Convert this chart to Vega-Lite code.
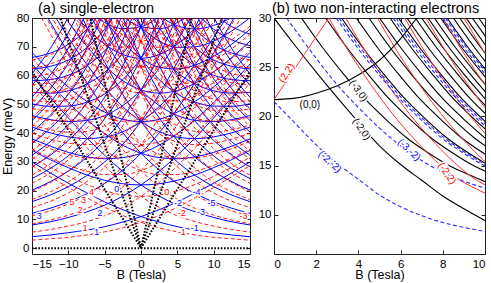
{
"$schema":"https://vega.github.io/schema/vega-lite/v6.json",
"background":"white",
"padding":{"left":0,"top":0,"right":0,"bottom":0},
"bounds":"flush",
"spacing":24,
"config":{
 "view":{"stroke":"#222","strokeWidth":1},
 "font":"Liberation Sans",
 "axis":{"grid":false,"domain":false,"tickColor":"#222","tickSize":-4,"labelFont":"Liberation Sans","labelFontSize":11.5,"labelColor":"#000","titleFont":"Liberation Sans","titleFontSize":12.5,"titleFontWeight":"normal","titleColor":"#000"},
 "axisX":{"labelPadding":8,"titlePadding":-1},
 "axisY":{"labelPadding":7,"titlePadding":2},
 "title":{"fontSize":14.5,"fontWeight":"normal","anchor":"start","frame":"group","font":"Liberation Sans","color":"#000"}
},
"datasets":{
"blue":[
{"k":"a1","B":-15,"E":4},{"k":"a1","B":-12.5,"E":4.6},{"k":"a1","B":-10,"E":5.4},{"k":"a1","B":-7.5,"E":6.3},{"k":"a1","B":-5,"E":7.5},{"k":"a1","B":-2.5,"E":9.1},{"k":"a1","B":0,"E":11},{"k":"a1","B":2.5,"E":13.4},{"k":"a1","B":5,"E":16.1},{"k":"a1","B":7.5,"E":19.3},{"k":"a1","B":10,"E":22.6},{"k":"a1","B":12.5,"E":26.2},{"k":"a1","B":15,"E":30},
{"k":"a-1","B":15,"E":4},{"k":"a-1","B":12.5,"E":4.6},{"k":"a-1","B":10,"E":5.4},{"k":"a-1","B":7.5,"E":6.3},{"k":"a-1","B":5,"E":7.5},{"k":"a-1","B":2.5,"E":9.1},{"k":"a-1","B":0,"E":11},{"k":"a-1","B":-2.5,"E":13.4},{"k":"a-1","B":-5,"E":16.1},{"k":"a-1","B":-7.5,"E":19.3},{"k":"a-1","B":-10,"E":22.6},{"k":"a-1","B":-12.5,"E":26.2},{"k":"a-1","B":-15,"E":30},
{"k":"a2","B":-15,"E":8.1},{"k":"a2","B":-12.5,"E":9.2},{"k":"a2","B":-10,"E":10.7},{"k":"a2","B":-7.5,"E":12.6},{"k":"a2","B":-5,"E":15},{"k":"a2","B":-2.5,"E":18.1},{"k":"a2","B":0,"E":22},{"k":"a2","B":2.5,"E":26.7},{"k":"a2","B":5,"E":32.3},{"k":"a2","B":7.5,"E":38.5},{"k":"a2","B":10,"E":45.3},{"k":"a2","B":12.5,"E":52.4},{"k":"a2","B":15,"E":59.9},
{"k":"a-2","B":15,"E":8.1},{"k":"a-2","B":12.5,"E":9.2},{"k":"a-2","B":10,"E":10.7},{"k":"a-2","B":7.5,"E":12.6},{"k":"a-2","B":5,"E":15},{"k":"a-2","B":2.5,"E":18.1},{"k":"a-2","B":0,"E":22},{"k":"a-2","B":-2.5,"E":26.7},{"k":"a-2","B":-5,"E":32.3},{"k":"a-2","B":-7.5,"E":38.5},{"k":"a-2","B":-10,"E":45.3},{"k":"a-2","B":-12.5,"E":52.4},{"k":"a-2","B":-15,"E":59.9},
{"k":"a3","B":-15,"E":12.1},{"k":"a3","B":-12.5,"E":13.9},{"k":"a3","B":-10,"E":16.1},{"k":"a3","B":-7.5,"E":18.9},{"k":"a3","B":-5,"E":22.5},{"k":"a3","B":-2.5,"E":27.2},{"k":"a3","B":0,"E":33},{"k":"a3","B":2.5,"E":40.1},{"k":"a3","B":5,"E":48.4},{"k":"a3","B":7.5,"E":57.8},{"k":"a3","B":10,"E":67.9},{"k":"a3","B":12.5,"E":78.7},{"k":"a3","B":15,"E":89.9},
{"k":"a-3","B":15,"E":12.1},{"k":"a-3","B":12.5,"E":13.9},{"k":"a-3","B":10,"E":16.1},{"k":"a-3","B":7.5,"E":18.9},{"k":"a-3","B":5,"E":22.5},{"k":"a-3","B":2.5,"E":27.2},{"k":"a-3","B":0,"E":33},{"k":"a-3","B":-2.5,"E":40.1},{"k":"a-3","B":-5,"E":48.4},{"k":"a-3","B":-7.5,"E":57.8},{"k":"a-3","B":-10,"E":67.9},{"k":"a-3","B":-12.5,"E":78.7},{"k":"a-3","B":-15,"E":89.9},
{"k":"a4","B":-15,"E":16.2},{"k":"a4","B":-12.5,"E":18.5},{"k":"a4","B":-10,"E":21.4},{"k":"a4","B":-7.5,"E":25.2},{"k":"a4","B":-5,"E":30},{"k":"a4","B":-2.5,"E":36.2},{"k":"a4","B":0,"E":44},{"k":"a4","B":2.5,"E":53.5},{"k":"a4","B":5,"E":64.6},{"k":"a4","B":7.5,"E":77},{"k":"a4","B":10,"E":90.5},
{"k":"a-4","B":15,"E":16.2},{"k":"a-4","B":12.5,"E":18.5},{"k":"a-4","B":10,"E":21.4},{"k":"a-4","B":7.5,"E":25.2},{"k":"a-4","B":5,"E":30},{"k":"a-4","B":2.5,"E":36.2},{"k":"a-4","B":0,"E":44},{"k":"a-4","B":-2.5,"E":53.5},{"k":"a-4","B":-5,"E":64.6},{"k":"a-4","B":-7.5,"E":77},{"k":"a-4","B":-10,"E":90.5},
{"k":"a5","B":-15,"E":20.2},{"k":"a5","B":-12.5,"E":23.1},{"k":"a5","B":-10,"E":26.8},{"k":"a5","B":-7.5,"E":31.5},{"k":"a5","B":-5,"E":37.5},{"k":"a5","B":-2.5,"E":45.3},{"k":"a5","B":0,"E":55},{"k":"a5","B":2.5,"E":66.9},{"k":"a5","B":5,"E":80.7},
{"k":"a-5","B":15,"E":20.2},{"k":"a-5","B":12.5,"E":23.1},{"k":"a-5","B":10,"E":26.8},{"k":"a-5","B":7.5,"E":31.5},{"k":"a-5","B":5,"E":37.5},{"k":"a-5","B":2.5,"E":45.3},{"k":"a-5","B":0,"E":55},{"k":"a-5","B":-2.5,"E":66.9},{"k":"a-5","B":-5,"E":80.7},
{"k":"a6","B":-15,"E":24.2},{"k":"a6","B":-12.5,"E":27.7},{"k":"a6","B":-10,"E":32.1},{"k":"a6","B":-7.5,"E":37.7},{"k":"a6","B":-5,"E":45},{"k":"a6","B":-2.5,"E":54.3},{"k":"a6","B":0,"E":66},{"k":"a6","B":2.5,"E":80.2},
{"k":"a-6","B":15,"E":24.2},{"k":"a-6","B":12.5,"E":27.7},{"k":"a-6","B":10,"E":32.1},{"k":"a-6","B":7.5,"E":37.7},{"k":"a-6","B":5,"E":45},{"k":"a-6","B":2.5,"E":54.3},{"k":"a-6","B":0,"E":66},{"k":"a-6","B":-2.5,"E":80.2},
{"k":"a7","B":-15,"E":28.3},{"k":"a7","B":-12.5,"E":32.3},{"k":"a7","B":-10,"E":37.5},{"k":"a7","B":-7.5,"E":44},{"k":"a7","B":-5,"E":52.5},{"k":"a7","B":-2.5,"E":63.4},{"k":"a7","B":0,"E":77},{"k":"a7","B":2.5,"E":93.6},
{"k":"a-7","B":15,"E":28.3},{"k":"a-7","B":12.5,"E":32.3},{"k":"a-7","B":10,"E":37.5},{"k":"a-7","B":7.5,"E":44},{"k":"a-7","B":5,"E":52.5},{"k":"a-7","B":2.5,"E":63.4},{"k":"a-7","B":0,"E":77},{"k":"a-7","B":-2.5,"E":93.6},
{"k":"a8","B":-15,"E":32.3},{"k":"a8","B":-12.5,"E":37},{"k":"a8","B":-10,"E":42.8},{"k":"a8","B":-7.5,"E":50.3},{"k":"a8","B":-5,"E":60},{"k":"a8","B":-2.5,"E":72.4},{"k":"a8","B":0,"E":88},
{"k":"a-8","B":15,"E":32.3},{"k":"a-8","B":12.5,"E":37},{"k":"a-8","B":10,"E":42.8},{"k":"a-8","B":7.5,"E":50.3},{"k":"a-8","B":5,"E":60},{"k":"a-8","B":2.5,"E":72.4},{"k":"a-8","B":0,"E":88},
{"k":"a9","B":-15,"E":36.4},{"k":"a9","B":-12.5,"E":41.6},{"k":"a9","B":-10,"E":48.2},{"k":"a9","B":-7.5,"E":56.6},{"k":"a9","B":-5,"E":67.5},{"k":"a9","B":-2.5,"E":81.5},
{"k":"a-9","B":15,"E":36.4},{"k":"a-9","B":12.5,"E":41.6},{"k":"a-9","B":10,"E":48.2},{"k":"a-9","B":7.5,"E":56.6},{"k":"a-9","B":5,"E":67.5},{"k":"a-9","B":2.5,"E":81.5},
{"k":"a10","B":-15,"E":40.4},{"k":"a10","B":-12.5,"E":46.2},{"k":"a10","B":-10,"E":53.5},{"k":"a10","B":-7.5,"E":62.9},{"k":"a10","B":-5,"E":75},{"k":"a10","B":-2.5,"E":90.5},
{"k":"a-10","B":15,"E":40.4},{"k":"a-10","B":12.5,"E":46.2},{"k":"a-10","B":10,"E":53.5},{"k":"a-10","B":7.5,"E":62.9},{"k":"a-10","B":5,"E":75},{"k":"a-10","B":2.5,"E":90.5},
{"k":"a11","B":-15,"E":44.4},{"k":"a11","B":-12.5,"E":50.8},{"k":"a11","B":-10,"E":58.9},{"k":"a11","B":-7.5,"E":69.2},{"k":"a11","B":-5,"E":82.5},
{"k":"a-11","B":15,"E":44.4},{"k":"a-11","B":12.5,"E":50.8},{"k":"a-11","B":10,"E":58.9},{"k":"a-11","B":7.5,"E":69.2},{"k":"a-11","B":5,"E":82.5},
{"k":"a12","B":-15,"E":48.5},{"k":"a12","B":-12.5,"E":55.4},{"k":"a12","B":-10,"E":64.2},{"k":"a12","B":-7.5,"E":75.5},{"k":"a12","B":-5,"E":90},
{"k":"a-12","B":15,"E":48.5},{"k":"a-12","B":12.5,"E":55.4},{"k":"a-12","B":10,"E":64.2},{"k":"a-12","B":7.5,"E":75.5},{"k":"a-12","B":5,"E":90},
{"k":"a13","B":-15,"E":52.5},{"k":"a13","B":-12.5,"E":60.1},{"k":"a13","B":-10,"E":69.6},{"k":"a13","B":-7.5,"E":81.8},
{"k":"a-13","B":15,"E":52.5},{"k":"a-13","B":12.5,"E":60.1},{"k":"a-13","B":10,"E":69.6},{"k":"a-13","B":7.5,"E":81.8},
{"k":"a14","B":-15,"E":56.6},{"k":"a14","B":-12.5,"E":64.7},{"k":"a14","B":-10,"E":74.9},{"k":"a14","B":-7.5,"E":88.1},
{"k":"a-14","B":15,"E":56.6},{"k":"a-14","B":12.5,"E":64.7},{"k":"a-14","B":10,"E":74.9},{"k":"a-14","B":7.5,"E":88.1},
{"k":"a15","B":-15,"E":60.6},{"k":"a15","B":-12.5,"E":69.3},{"k":"a15","B":-10,"E":80.3},
{"k":"a-15","B":15,"E":60.6},{"k":"a-15","B":12.5,"E":69.3},{"k":"a-15","B":10,"E":80.3},
{"k":"b0","B":-15,"E":34},{"k":"b0","B":-12.5,"E":30.8},{"k":"b0","B":-10,"E":28},{"k":"b0","B":-7.5,"E":25.5},{"k":"b0","B":-5,"E":23.6},{"k":"b0","B":-2.5,"E":22.4},{"k":"b0","B":0,"E":22},{"k":"b0","B":2.5,"E":22.4},{"k":"b0","B":5,"E":23.6},{"k":"b0","B":7.5,"E":25.5},{"k":"b0","B":10,"E":28},{"k":"b0","B":12.5,"E":30.8},{"k":"b0","B":15,"E":34},
{"k":"b1","B":-15,"E":38},{"k":"b1","B":-12.5,"E":35.5},{"k":"b1","B":-10,"E":33.3},{"k":"b1","B":-7.5,"E":31.8},{"k":"b1","B":-5,"E":31.1},{"k":"b1","B":-2.5,"E":31.5},{"k":"b1","B":0,"E":33},{"k":"b1","B":2.5,"E":35.8},{"k":"b1","B":5,"E":39.8},{"k":"b1","B":7.5,"E":44.8},{"k":"b1","B":10,"E":50.6},{"k":"b1","B":12.5,"E":57.1},{"k":"b1","B":15,"E":64},
{"k":"b-1","B":15,"E":38},{"k":"b-1","B":12.5,"E":35.5},{"k":"b-1","B":10,"E":33.3},{"k":"b-1","B":7.5,"E":31.8},{"k":"b-1","B":5,"E":31.1},{"k":"b-1","B":2.5,"E":31.5},{"k":"b-1","B":0,"E":33},{"k":"b-1","B":-2.5,"E":35.8},{"k":"b-1","B":-5,"E":39.8},{"k":"b-1","B":-7.5,"E":44.8},{"k":"b-1","B":-10,"E":50.6},{"k":"b-1","B":-12.5,"E":57.1},{"k":"b-1","B":-15,"E":64},
{"k":"b2","B":-15,"E":42.1},{"k":"b2","B":-12.5,"E":40.1},{"k":"b2","B":-10,"E":38.7},{"k":"b2","B":-7.5,"E":38.1},{"k":"b2","B":-5,"E":38.6},{"k":"b2","B":-2.5,"E":40.5},{"k":"b2","B":0,"E":44},{"k":"b2","B":2.5,"E":49.2},{"k":"b2","B":5,"E":55.9},{"k":"b2","B":7.5,"E":64},{"k":"b2","B":10,"E":73.2},{"k":"b2","B":12.5,"E":83.3},
{"k":"b-2","B":15,"E":42.1},{"k":"b-2","B":12.5,"E":40.1},{"k":"b-2","B":10,"E":38.7},{"k":"b-2","B":7.5,"E":38.1},{"k":"b-2","B":5,"E":38.6},{"k":"b-2","B":2.5,"E":40.5},{"k":"b-2","B":0,"E":44},{"k":"b-2","B":-2.5,"E":49.2},{"k":"b-2","B":-5,"E":55.9},{"k":"b-2","B":-7.5,"E":64},{"k":"b-2","B":-10,"E":73.2},{"k":"b-2","B":-12.5,"E":83.3},
{"k":"b3","B":-15,"E":46.1},{"k":"b3","B":-12.5,"E":44.7},{"k":"b3","B":-10,"E":44},{"k":"b3","B":-7.5,"E":44.4},{"k":"b3","B":-5,"E":46.1},{"k":"b3","B":-2.5,"E":49.6},{"k":"b3","B":0,"E":55},{"k":"b3","B":2.5,"E":62.5},{"k":"b3","B":5,"E":72.1},{"k":"b3","B":7.5,"E":83.3},
{"k":"b-3","B":15,"E":46.1},{"k":"b-3","B":12.5,"E":44.7},{"k":"b-3","B":10,"E":44},{"k":"b-3","B":7.5,"E":44.4},{"k":"b-3","B":5,"E":46.1},{"k":"b-3","B":2.5,"E":49.6},{"k":"b-3","B":0,"E":55},{"k":"b-3","B":-2.5,"E":62.5},{"k":"b-3","B":-5,"E":72.1},{"k":"b-3","B":-7.5,"E":83.3},
{"k":"b4","B":-15,"E":50.2},{"k":"b4","B":-12.5,"E":49.3},{"k":"b4","B":-10,"E":49.4},{"k":"b4","B":-7.5,"E":50.7},{"k":"b4","B":-5,"E":53.6},{"k":"b4","B":-2.5,"E":58.6},{"k":"b4","B":0,"E":66},{"k":"b4","B":2.5,"E":75.9},{"k":"b4","B":5,"E":88.2},
{"k":"b-4","B":15,"E":50.2},{"k":"b-4","B":12.5,"E":49.3},{"k":"b-4","B":10,"E":49.4},{"k":"b-4","B":7.5,"E":50.7},{"k":"b-4","B":5,"E":53.6},{"k":"b-4","B":2.5,"E":58.6},{"k":"b-4","B":0,"E":66},{"k":"b-4","B":-2.5,"E":75.9},{"k":"b-4","B":-5,"E":88.2},
{"k":"b5","B":-15,"E":54.2},{"k":"b5","B":-12.5,"E":53.9},{"k":"b5","B":-10,"E":54.7},{"k":"b5","B":-7.5,"E":57},{"k":"b5","B":-5,"E":61.1},{"k":"b5","B":-2.5,"E":67.7},{"k":"b5","B":0,"E":77},{"k":"b5","B":2.5,"E":89.3},
{"k":"b-5","B":15,"E":54.2},{"k":"b-5","B":12.5,"E":53.9},{"k":"b-5","B":10,"E":54.7},{"k":"b-5","B":7.5,"E":57},{"k":"b-5","B":5,"E":61.1},{"k":"b-5","B":2.5,"E":67.7},{"k":"b-5","B":0,"E":77},{"k":"b-5","B":-2.5,"E":89.3},
{"k":"b6","B":-15,"E":58.2},{"k":"b6","B":-12.5,"E":58.6},{"k":"b6","B":-10,"E":60.1},{"k":"b6","B":-7.5,"E":63.3},{"k":"b6","B":-5,"E":68.6},{"k":"b6","B":-2.5,"E":76.7},{"k":"b6","B":0,"E":88},
{"k":"b-6","B":15,"E":58.2},{"k":"b-6","B":12.5,"E":58.6},{"k":"b-6","B":10,"E":60.1},{"k":"b-6","B":7.5,"E":63.3},{"k":"b-6","B":5,"E":68.6},{"k":"b-6","B":2.5,"E":76.7},{"k":"b-6","B":0,"E":88},
{"k":"b7","B":-15,"E":62.3},{"k":"b7","B":-12.5,"E":63.2},{"k":"b7","B":-10,"E":65.4},{"k":"b7","B":-7.5,"E":69.6},{"k":"b7","B":-5,"E":76.1},{"k":"b7","B":-2.5,"E":85.8},
{"k":"b-7","B":15,"E":62.3},{"k":"b-7","B":12.5,"E":63.2},{"k":"b-7","B":10,"E":65.4},{"k":"b-7","B":7.5,"E":69.6},{"k":"b-7","B":5,"E":76.1},{"k":"b-7","B":2.5,"E":85.8},
{"k":"b8","B":-15,"E":66.3},{"k":"b8","B":-12.5,"E":67.8},{"k":"b8","B":-10,"E":70.8},{"k":"b8","B":-7.5,"E":75.9},{"k":"b8","B":-5,"E":83.6},
{"k":"b-8","B":15,"E":66.3},{"k":"b-8","B":12.5,"E":67.8},{"k":"b-8","B":10,"E":70.8},{"k":"b-8","B":7.5,"E":75.9},{"k":"b-8","B":5,"E":83.6},
{"k":"b-9","B":15,"E":70.4},{"k":"b-9","B":12.5,"E":72.4},{"k":"b-9","B":10,"E":76.1},{"k":"b-9","B":7.5,"E":82.2},
{"k":"b-10","B":15,"E":74.4},{"k":"b-10","B":12.5,"E":77},{"k":"b-10","B":10,"E":81.5},
{"k":"c0","B":-15,"E":68},{"k":"c0","B":-12.5,"E":61.7},{"k":"c0","B":-10,"E":56},{"k":"c0","B":-7.5,"E":51.1},{"k":"c0","B":-5,"E":47.3},{"k":"c0","B":-2.5,"E":44.8},{"k":"c0","B":0,"E":44},{"k":"c0","B":2.5,"E":44.8},{"k":"c0","B":5,"E":47.3},{"k":"c0","B":7.5,"E":51.1},{"k":"c0","B":10,"E":56},{"k":"c0","B":12.5,"E":61.7},{"k":"c0","B":15,"E":68},
{"k":"c-1","B":15,"E":72},{"k":"c-1","B":12.5,"E":66.3},{"k":"c-1","B":10,"E":61.3},{"k":"c-1","B":7.5,"E":57.4},{"k":"c-1","B":5,"E":54.8},{"k":"c-1","B":2.5,"E":53.9},{"k":"c-1","B":0,"E":55},{"k":"c-1","B":-2.5,"E":58.2},{"k":"c-1","B":-5,"E":63.4},{"k":"c-1","B":-7.5,"E":70.3},{"k":"c-1","B":-10,"E":78.6},{"k":"c-1","B":-12.5,"E":87.9},
{"k":"c-2","B":15,"E":76.1},{"k":"c-2","B":12.5,"E":70.9},{"k":"c-2","B":10,"E":66.7},{"k":"c-2","B":7.5,"E":63.7},{"k":"c-2","B":5,"E":62.3},{"k":"c-2","B":2.5,"E":62.9},{"k":"c-2","B":0,"E":66},{"k":"c-2","B":-2.5,"E":71.6},{"k":"c-2","B":-5,"E":79.6},{"k":"c-2","B":-7.5,"E":89.6},
{"k":"c-3","B":15,"E":80.1},{"k":"c-3","B":12.5,"E":75.5},{"k":"c-3","B":10,"E":72},{"k":"c-3","B":7.5,"E":70},{"k":"c-3","B":5,"E":69.8},{"k":"c-3","B":2.5,"E":72},{"k":"c-3","B":0,"E":77},{"k":"c-3","B":-2.5,"E":85},
{"k":"c-4","B":15,"E":84.2},{"k":"c-4","B":12.5,"E":80.2},{"k":"c-4","B":10,"E":77.4},{"k":"c-4","B":7.5,"E":76.2},{"k":"c-4","B":5,"E":77.3},{"k":"c-4","B":2.5,"E":81},{"k":"c-4","B":0,"E":88},
{"k":"d0","B":-10,"E":83.9},{"k":"d0","B":-7.5,"E":76.6},{"k":"d0","B":-5,"E":70.9},{"k":"d0","B":-2.5,"E":67.3},{"k":"d0","B":0,"E":66},{"k":"d0","B":2.5,"E":67.3},{"k":"d0","B":5,"E":70.9},{"k":"d0","B":7.5,"E":76.6},{"k":"d0","B":10,"E":83.9},
{"k":"d1","B":-10,"E":89.3},{"k":"d1","B":-7.5,"E":82.9},{"k":"d1","B":-5,"E":78.4},{"k":"d1","B":-2.5,"E":76.3},{"k":"d1","B":0,"E":77},{"k":"d1","B":2.5,"E":80.6},{"k":"d1","B":5,"E":87.1},
{"k":"d-1","B":10,"E":89.3},{"k":"d-1","B":7.5,"E":82.9},{"k":"d-1","B":5,"E":78.4},{"k":"d-1","B":2.5,"E":76.3},{"k":"d-1","B":0,"E":77},{"k":"d-1","B":-2.5,"E":80.6},{"k":"d-1","B":-5,"E":87.1}
],
"red":[
{"k":"a1","B":-15,"E":2.8},{"k":"a1","B":-12.5,"E":3.3},{"k":"a1","B":-10,"E":3.8},{"k":"a1","B":-7.5,"E":4.6},{"k":"a1","B":-5,"E":5.7},{"k":"a1","B":-2.5,"E":7.1},{"k":"a1","B":0,"E":9},{"k":"a1","B":2.5,"E":11.4},{"k":"a1","B":5,"E":14.3},{"k":"a1","B":7.5,"E":17.6},{"k":"a1","B":10,"E":21.1},{"k":"a1","B":12.5,"E":24.9},{"k":"a1","B":15,"E":28.7},
{"k":"a-1","B":15,"E":2.8},{"k":"a-1","B":12.5,"E":3.3},{"k":"a-1","B":10,"E":3.8},{"k":"a-1","B":7.5,"E":4.6},{"k":"a-1","B":5,"E":5.7},{"k":"a-1","B":2.5,"E":7.1},{"k":"a-1","B":0,"E":9},{"k":"a-1","B":-2.5,"E":11.4},{"k":"a-1","B":-5,"E":14.3},{"k":"a-1","B":-7.5,"E":17.6},{"k":"a-1","B":-10,"E":21.1},{"k":"a-1","B":-12.5,"E":24.9},{"k":"a-1","B":-15,"E":28.7},
{"k":"a2","B":-15,"E":5.6},{"k":"a2","B":-12.5,"E":6.5},{"k":"a2","B":-10,"E":7.7},{"k":"a2","B":-7.5,"E":9.2},{"k":"a2","B":-5,"E":11.3},{"k":"a2","B":-2.5,"E":14.2},{"k":"a2","B":0,"E":18},{"k":"a2","B":2.5,"E":22.8},{"k":"a2","B":5,"E":28.6},{"k":"a2","B":7.5,"E":35.1},{"k":"a2","B":10,"E":42.2},{"k":"a2","B":12.5,"E":49.7},{"k":"a2","B":15,"E":57.5},
{"k":"a-2","B":15,"E":5.6},{"k":"a-2","B":12.5,"E":6.5},{"k":"a-2","B":10,"E":7.7},{"k":"a-2","B":7.5,"E":9.2},{"k":"a-2","B":5,"E":11.3},{"k":"a-2","B":2.5,"E":14.2},{"k":"a-2","B":0,"E":18},{"k":"a-2","B":-2.5,"E":22.8},{"k":"a-2","B":-5,"E":28.6},{"k":"a-2","B":-7.5,"E":35.1},{"k":"a-2","B":-10,"E":42.2},{"k":"a-2","B":-12.5,"E":49.7},{"k":"a-2","B":-15,"E":57.5},
{"k":"a3","B":-15,"E":8.5},{"k":"a3","B":-12.5,"E":9.8},{"k":"a3","B":-10,"E":11.5},{"k":"a3","B":-7.5,"E":13.8},{"k":"a3","B":-5,"E":17},{"k":"a3","B":-2.5,"E":21.3},{"k":"a3","B":0,"E":27},{"k":"a3","B":2.5,"E":34.3},{"k":"a3","B":5,"E":42.9},{"k":"a3","B":7.5,"E":52.7},{"k":"a3","B":10,"E":63.4},{"k":"a3","B":12.5,"E":74.6},{"k":"a3","B":15,"E":86.2},
{"k":"a-3","B":15,"E":8.5},{"k":"a-3","B":12.5,"E":9.8},{"k":"a-3","B":10,"E":11.5},{"k":"a-3","B":7.5,"E":13.8},{"k":"a-3","B":5,"E":17},{"k":"a-3","B":2.5,"E":21.3},{"k":"a-3","B":0,"E":27},{"k":"a-3","B":-2.5,"E":34.3},{"k":"a-3","B":-5,"E":42.9},{"k":"a-3","B":-7.5,"E":52.7},{"k":"a-3","B":-10,"E":63.4},{"k":"a-3","B":-12.5,"E":74.6},{"k":"a-3","B":-15,"E":86.2},
{"k":"a4","B":-15,"E":11.3},{"k":"a4","B":-12.5,"E":13},{"k":"a4","B":-10,"E":15.4},{"k":"a4","B":-7.5,"E":18.4},{"k":"a4","B":-5,"E":22.6},{"k":"a4","B":-2.5,"E":28.4},{"k":"a4","B":0,"E":36},{"k":"a4","B":2.5,"E":45.7},{"k":"a4","B":5,"E":57.2},{"k":"a4","B":7.5,"E":70.3},{"k":"a4","B":10,"E":84.5},
{"k":"a-4","B":15,"E":11.3},{"k":"a-4","B":12.5,"E":13},{"k":"a-4","B":10,"E":15.4},{"k":"a-4","B":7.5,"E":18.4},{"k":"a-4","B":5,"E":22.6},{"k":"a-4","B":2.5,"E":28.4},{"k":"a-4","B":0,"E":36},{"k":"a-4","B":-2.5,"E":45.7},{"k":"a-4","B":-5,"E":57.2},{"k":"a-4","B":-7.5,"E":70.3},{"k":"a-4","B":-10,"E":84.5},
{"k":"a5","B":-15,"E":14.1},{"k":"a5","B":-12.5,"E":16.3},{"k":"a5","B":-10,"E":19.2},{"k":"a5","B":-7.5,"E":23.1},{"k":"a5","B":-5,"E":28.3},{"k":"a5","B":-2.5,"E":35.5},{"k":"a5","B":0,"E":45},{"k":"a5","B":2.5,"E":57.1},{"k":"a5","B":5,"E":71.5},{"k":"a5","B":7.5,"E":87.9},
{"k":"a-5","B":15,"E":14.1},{"k":"a-5","B":12.5,"E":16.3},{"k":"a-5","B":10,"E":19.2},{"k":"a-5","B":7.5,"E":23.1},{"k":"a-5","B":5,"E":28.3},{"k":"a-5","B":2.5,"E":35.5},{"k":"a-5","B":0,"E":45},{"k":"a-5","B":-2.5,"E":57.1},{"k":"a-5","B":-5,"E":71.5},{"k":"a-5","B":-7.5,"E":87.9},
{"k":"a6","B":-15,"E":16.9},{"k":"a6","B":-12.5,"E":19.6},{"k":"a6","B":-10,"E":23},{"k":"a6","B":-7.5,"E":27.7},{"k":"a6","B":-5,"E":34},{"k":"a6","B":-2.5,"E":42.6},{"k":"a6","B":0,"E":54},{"k":"a6","B":2.5,"E":68.5},{"k":"a6","B":5,"E":85.8},
{"k":"a-6","B":15,"E":16.9},{"k":"a-6","B":12.5,"E":19.6},{"k":"a-6","B":10,"E":23},{"k":"a-6","B":7.5,"E":27.7},{"k":"a-6","B":5,"E":34},{"k":"a-6","B":2.5,"E":42.6},{"k":"a-6","B":0,"E":54},{"k":"a-6","B":-2.5,"E":68.5},{"k":"a-6","B":-5,"E":85.8},
{"k":"a7","B":-15,"E":19.7},{"k":"a7","B":-12.5,"E":22.8},{"k":"a7","B":-10,"E":26.9},{"k":"a7","B":-7.5,"E":32.3},{"k":"a7","B":-5,"E":39.6},{"k":"a7","B":-2.5,"E":49.7},{"k":"a7","B":0,"E":63},{"k":"a7","B":2.5,"E":79.9},{"k":"a7","B":5,"E":100.1},
{"k":"a-7","B":15,"E":19.7},{"k":"a-7","B":12.5,"E":22.8},{"k":"a-7","B":10,"E":26.9},{"k":"a-7","B":7.5,"E":32.3},{"k":"a-7","B":5,"E":39.6},{"k":"a-7","B":2.5,"E":49.7},{"k":"a-7","B":0,"E":63},{"k":"a-7","B":-2.5,"E":79.9},{"k":"a-7","B":-5,"E":100.1},
{"k":"a8","B":-15,"E":22.6},{"k":"a8","B":-12.5,"E":26.1},{"k":"a8","B":-10,"E":30.7},{"k":"a8","B":-7.5,"E":36.9},{"k":"a8","B":-5,"E":45.3},{"k":"a8","B":-2.5,"E":56.8},{"k":"a8","B":0,"E":72},{"k":"a8","B":2.5,"E":91.4},
{"k":"a-8","B":15,"E":22.6},{"k":"a-8","B":12.5,"E":26.1},{"k":"a-8","B":10,"E":30.7},{"k":"a-8","B":7.5,"E":36.9},{"k":"a-8","B":5,"E":45.3},{"k":"a-8","B":2.5,"E":56.8},{"k":"a-8","B":0,"E":72},{"k":"a-8","B":-2.5,"E":91.4},
{"k":"a9","B":-15,"E":25.4},{"k":"a9","B":-12.5,"E":29.3},{"k":"a9","B":-10,"E":34.6},{"k":"a9","B":-7.5,"E":41.5},{"k":"a9","B":-5,"E":50.9},{"k":"a9","B":-2.5,"E":63.9},{"k":"a9","B":0,"E":81},
{"k":"a-9","B":15,"E":25.4},{"k":"a-9","B":12.5,"E":29.3},{"k":"a-9","B":10,"E":34.6},{"k":"a-9","B":7.5,"E":41.5},{"k":"a-9","B":5,"E":50.9},{"k":"a-9","B":2.5,"E":63.9},{"k":"a-9","B":0,"E":81},
{"k":"a10","B":-15,"E":28.2},{"k":"a10","B":-12.5,"E":32.6},{"k":"a10","B":-10,"E":38.4},{"k":"a10","B":-7.5,"E":46.1},{"k":"a10","B":-5,"E":56.6},{"k":"a10","B":-2.5,"E":71},{"k":"a10","B":0,"E":90},
{"k":"a-10","B":15,"E":28.2},{"k":"a-10","B":12.5,"E":32.6},{"k":"a-10","B":10,"E":38.4},{"k":"a-10","B":7.5,"E":46.1},{"k":"a-10","B":5,"E":56.6},{"k":"a-10","B":2.5,"E":71},{"k":"a-10","B":0,"E":90},
{"k":"a11","B":-15,"E":31},{"k":"a11","B":-12.5,"E":35.9},{"k":"a11","B":-10,"E":42.2},{"k":"a11","B":-7.5,"E":50.7},{"k":"a11","B":-5,"E":62.3},{"k":"a11","B":-2.5,"E":78.1},{"k":"a11","B":0,"E":99},
{"k":"a-11","B":15,"E":31},{"k":"a-11","B":12.5,"E":35.9},{"k":"a-11","B":10,"E":42.2},{"k":"a-11","B":7.5,"E":50.7},{"k":"a-11","B":5,"E":62.3},{"k":"a-11","B":2.5,"E":78.1},{"k":"a-11","B":0,"E":99},
{"k":"a12","B":-15,"E":33.8},{"k":"a12","B":-12.5,"E":39.1},{"k":"a12","B":-10,"E":46.1},{"k":"a12","B":-7.5,"E":55.3},{"k":"a12","B":-5,"E":67.9},{"k":"a12","B":-2.5,"E":85.2},
{"k":"a-12","B":15,"E":33.8},{"k":"a-12","B":12.5,"E":39.1},{"k":"a-12","B":10,"E":46.1},{"k":"a-12","B":7.5,"E":55.3},{"k":"a-12","B":5,"E":67.9},{"k":"a-12","B":2.5,"E":85.2},
{"k":"a13","B":-15,"E":36.7},{"k":"a13","B":-12.5,"E":42.4},{"k":"a13","B":-10,"E":49.9},{"k":"a13","B":-7.5,"E":59.9},{"k":"a13","B":-5,"E":73.6},{"k":"a13","B":-2.5,"E":92.3},
{"k":"a-13","B":15,"E":36.7},{"k":"a-13","B":12.5,"E":42.4},{"k":"a-13","B":10,"E":49.9},{"k":"a-13","B":7.5,"E":59.9},{"k":"a-13","B":5,"E":73.6},{"k":"a-13","B":2.5,"E":92.3},
{"k":"a14","B":-15,"E":39.5},{"k":"a14","B":-12.5,"E":45.6},{"k":"a14","B":-10,"E":53.8},{"k":"a14","B":-7.5,"E":64.5},{"k":"a14","B":-5,"E":79.2},{"k":"a14","B":-2.5,"E":99.4},
{"k":"a-14","B":15,"E":39.5},{"k":"a-14","B":12.5,"E":45.6},{"k":"a-14","B":10,"E":53.8},{"k":"a-14","B":7.5,"E":64.5},{"k":"a-14","B":5,"E":79.2},{"k":"a-14","B":2.5,"E":99.4},
{"k":"a15","B":-15,"E":42.3},{"k":"a15","B":-12.5,"E":48.9},{"k":"a15","B":-10,"E":57.6},{"k":"a15","B":-7.5,"E":69.2},{"k":"a15","B":-5,"E":84.9},
{"k":"a-15","B":15,"E":42.3},{"k":"a-15","B":12.5,"E":48.9},{"k":"a-15","B":10,"E":57.6},{"k":"a-15","B":7.5,"E":69.2},{"k":"a-15","B":5,"E":84.9},
{"k":"a16","B":-15,"E":45.1},{"k":"a16","B":-12.5,"E":52.2},{"k":"a16","B":-10,"E":61.4},{"k":"a16","B":-7.5,"E":73.8},{"k":"a16","B":-5,"E":90.6},
{"k":"a-16","B":15,"E":45.1},{"k":"a-16","B":12.5,"E":52.2},{"k":"a-16","B":10,"E":61.4},{"k":"a-16","B":7.5,"E":73.8},{"k":"a-16","B":5,"E":90.6},
{"k":"a17","B":-15,"E":47.9},{"k":"a17","B":-12.5,"E":55.4},{"k":"a17","B":-10,"E":65.3},{"k":"a17","B":-7.5,"E":78.4},{"k":"a17","B":-5,"E":96.2},
{"k":"a-17","B":15,"E":47.9},{"k":"a-17","B":12.5,"E":55.4},{"k":"a-17","B":10,"E":65.3},{"k":"a-17","B":7.5,"E":78.4},{"k":"a-17","B":5,"E":96.2},
{"k":"a18","B":-15,"E":50.8},{"k":"a18","B":-12.5,"E":58.7},{"k":"a18","B":-10,"E":69.1},{"k":"a18","B":-7.5,"E":83},
{"k":"a-18","B":15,"E":50.8},{"k":"a-18","B":12.5,"E":58.7},{"k":"a-18","B":10,"E":69.1},{"k":"a-18","B":7.5,"E":83},
{"k":"b0","B":-15,"E":31.6},{"k":"b0","B":-12.5,"E":28.1},{"k":"b0","B":-10,"E":25},{"k":"b0","B":-7.5,"E":22.2},{"k":"b0","B":-5,"E":20},{"k":"b0","B":-2.5,"E":18.5},{"k":"b0","B":0,"E":18},{"k":"b0","B":2.5,"E":18.5},{"k":"b0","B":5,"E":20},{"k":"b0","B":7.5,"E":22.2},{"k":"b0","B":10,"E":25},{"k":"b0","B":12.5,"E":28.1},{"k":"b0","B":15,"E":31.6},
{"k":"b1","B":-15,"E":34.4},{"k":"b1","B":-12.5,"E":31.4},{"k":"b1","B":-10,"E":28.8},{"k":"b1","B":-7.5,"E":26.8},{"k":"b1","B":-5,"E":25.6},{"k":"b1","B":-2.5,"E":25.6},{"k":"b1","B":0,"E":27},{"k":"b1","B":2.5,"E":29.9},{"k":"b1","B":5,"E":34.3},{"k":"b1","B":7.5,"E":39.8},{"k":"b1","B":10,"E":46.1},{"k":"b1","B":12.5,"E":53},{"k":"b1","B":15,"E":60.3},
{"k":"b-1","B":15,"E":34.4},{"k":"b-1","B":12.5,"E":31.4},{"k":"b-1","B":10,"E":28.8},{"k":"b-1","B":7.5,"E":26.8},{"k":"b-1","B":5,"E":25.6},{"k":"b-1","B":2.5,"E":25.6},{"k":"b-1","B":0,"E":27},{"k":"b-1","B":-2.5,"E":29.9},{"k":"b-1","B":-5,"E":34.3},{"k":"b-1","B":-7.5,"E":39.8},{"k":"b-1","B":-10,"E":46.1},{"k":"b-1","B":-12.5,"E":53},{"k":"b-1","B":-15,"E":60.3},
{"k":"b2","B":-15,"E":37.2},{"k":"b2","B":-12.5,"E":34.6},{"k":"b2","B":-10,"E":32.6},{"k":"b2","B":-7.5,"E":31.4},{"k":"b2","B":-5,"E":31.3},{"k":"b2","B":-2.5,"E":32.7},{"k":"b2","B":0,"E":36},{"k":"b2","B":2.5,"E":41.4},{"k":"b2","B":5,"E":48.6},{"k":"b2","B":7.5,"E":57.3},{"k":"b2","B":10,"E":67.2},{"k":"b2","B":12.5,"E":77.8},{"k":"b2","B":15,"E":89},
{"k":"b-2","B":15,"E":37.2},{"k":"b-2","B":12.5,"E":34.6},{"k":"b-2","B":10,"E":32.6},{"k":"b-2","B":7.5,"E":31.4},{"k":"b-2","B":5,"E":31.3},{"k":"b-2","B":2.5,"E":32.7},{"k":"b-2","B":0,"E":36},{"k":"b-2","B":-2.5,"E":41.4},{"k":"b-2","B":-5,"E":48.6},{"k":"b-2","B":-7.5,"E":57.3},{"k":"b-2","B":-10,"E":67.2},{"k":"b-2","B":-12.5,"E":77.8},{"k":"b-2","B":-15,"E":89},
{"k":"b3","B":-15,"E":40},{"k":"b3","B":-12.5,"E":37.9},{"k":"b3","B":-10,"E":36.5},{"k":"b3","B":-7.5,"E":36},{"k":"b3","B":-5,"E":36.9},{"k":"b3","B":-2.5,"E":39.8},{"k":"b3","B":0,"E":45},{"k":"b3","B":2.5,"E":52.8},{"k":"b3","B":5,"E":62.9},{"k":"b3","B":7.5,"E":74.9},{"k":"b3","B":10,"E":88.3},
{"k":"b-3","B":15,"E":40},{"k":"b-3","B":12.5,"E":37.9},{"k":"b-3","B":10,"E":36.5},{"k":"b-3","B":7.5,"E":36},{"k":"b-3","B":5,"E":36.9},{"k":"b-3","B":2.5,"E":39.8},{"k":"b-3","B":0,"E":45},{"k":"b-3","B":-2.5,"E":52.8},{"k":"b-3","B":-5,"E":62.9},{"k":"b-3","B":-7.5,"E":74.9},{"k":"b-3","B":-10,"E":88.3},
{"k":"b4","B":-15,"E":42.8},{"k":"b4","B":-12.5,"E":41.2},{"k":"b4","B":-10,"E":40.3},{"k":"b4","B":-7.5,"E":40.6},{"k":"b4","B":-5,"E":42.6},{"k":"b4","B":-2.5,"E":46.9},{"k":"b4","B":0,"E":54},{"k":"b4","B":2.5,"E":64.2},{"k":"b4","B":5,"E":77.2},{"k":"b4","B":7.5,"E":92.5},
{"k":"b-4","B":15,"E":42.8},{"k":"b-4","B":12.5,"E":41.2},{"k":"b-4","B":10,"E":40.3},{"k":"b-4","B":7.5,"E":40.6},{"k":"b-4","B":5,"E":42.6},{"k":"b-4","B":2.5,"E":46.9},{"k":"b-4","B":0,"E":54},{"k":"b-4","B":-2.5,"E":64.2},{"k":"b-4","B":-5,"E":77.2},{"k":"b-4","B":-7.5,"E":92.5},
{"k":"b5","B":-15,"E":45.7},{"k":"b5","B":-12.5,"E":44.4},{"k":"b5","B":-10,"E":44.2},{"k":"b5","B":-7.5,"E":45.2},{"k":"b5","B":-5,"E":48.3},{"k":"b5","B":-2.5,"E":54},{"k":"b5","B":0,"E":63},{"k":"b5","B":2.5,"E":75.6},{"k":"b5","B":5,"E":91.5},
{"k":"b-5","B":15,"E":45.7},{"k":"b-5","B":12.5,"E":44.4},{"k":"b-5","B":10,"E":44.2},{"k":"b-5","B":7.5,"E":45.2},{"k":"b-5","B":5,"E":48.3},{"k":"b-5","B":2.5,"E":54},{"k":"b-5","B":0,"E":63},{"k":"b-5","B":-2.5,"E":75.6},{"k":"b-5","B":-5,"E":91.5},
{"k":"b6","B":-15,"E":48.5},{"k":"b6","B":-12.5,"E":47.7},{"k":"b6","B":-10,"E":48},{"k":"b6","B":-7.5,"E":49.8},{"k":"b6","B":-5,"E":53.9},{"k":"b6","B":-2.5,"E":61.1},{"k":"b6","B":0,"E":72},{"k":"b6","B":2.5,"E":87},
{"k":"b-6","B":15,"E":48.5},{"k":"b-6","B":12.5,"E":47.7},{"k":"b-6","B":10,"E":48},{"k":"b-6","B":7.5,"E":49.8},{"k":"b-6","B":5,"E":53.9},{"k":"b-6","B":2.5,"E":61.1},{"k":"b-6","B":0,"E":72},{"k":"b-6","B":-2.5,"E":87},
{"k":"b7","B":-15,"E":51.3},{"k":"b7","B":-12.5,"E":50.9},{"k":"b7","B":-10,"E":51.8},{"k":"b7","B":-7.5,"E":54.5},{"k":"b7","B":-5,"E":59.6},{"k":"b7","B":-2.5,"E":68.2},{"k":"b7","B":0,"E":81},
{"k":"b-7","B":15,"E":51.3},{"k":"b-7","B":12.5,"E":50.9},{"k":"b-7","B":10,"E":51.8},{"k":"b-7","B":7.5,"E":54.5},{"k":"b-7","B":5,"E":59.6},{"k":"b-7","B":2.5,"E":68.2},{"k":"b-7","B":0,"E":81},
{"k":"b8","B":-15,"E":54.1},{"k":"b8","B":-12.5,"E":54.2},{"k":"b8","B":-10,"E":55.7},{"k":"b8","B":-7.5,"E":59.1},{"k":"b8","B":-5,"E":65.2},{"k":"b8","B":-2.5,"E":75.3},{"k":"b8","B":0,"E":90},
{"k":"b-8","B":15,"E":54.1},{"k":"b-8","B":12.5,"E":54.2},{"k":"b-8","B":10,"E":55.7},{"k":"b-8","B":7.5,"E":59.1},{"k":"b-8","B":5,"E":65.2},{"k":"b-8","B":2.5,"E":75.3},{"k":"b-8","B":0,"E":90},
{"k":"b9","B":-15,"E":56.9},{"k":"b9","B":-12.5,"E":57.5},{"k":"b9","B":-10,"E":59.5},{"k":"b9","B":-7.5,"E":63.7},{"k":"b9","B":-5,"E":70.9},{"k":"b9","B":-2.5,"E":82.4},
{"k":"b-9","B":15,"E":56.9},{"k":"b-9","B":12.5,"E":57.5},{"k":"b-9","B":10,"E":59.5},{"k":"b-9","B":7.5,"E":63.7},{"k":"b-9","B":5,"E":70.9},{"k":"b-9","B":2.5,"E":82.4},
{"k":"b10","B":-15,"E":59.8},{"k":"b10","B":-12.5,"E":60.7},{"k":"b10","B":-10,"E":63.4},{"k":"b10","B":-7.5,"E":68.3},{"k":"b10","B":-5,"E":76.6},{"k":"b10","B":-2.5,"E":89.5},
{"k":"b-10","B":15,"E":59.8},{"k":"b-10","B":12.5,"E":60.7},{"k":"b-10","B":10,"E":63.4},{"k":"b-10","B":7.5,"E":68.3},{"k":"b-10","B":5,"E":76.6},{"k":"b-10","B":2.5,"E":89.5},
{"k":"b11","B":-15,"E":62.6},{"k":"b11","B":-12.5,"E":64},{"k":"b11","B":-10,"E":67.2},{"k":"b11","B":-7.5,"E":72.9},{"k":"b11","B":-5,"E":82.2},
{"k":"b-11","B":15,"E":62.6},{"k":"b-11","B":12.5,"E":64},{"k":"b-11","B":10,"E":67.2},{"k":"b-11","B":7.5,"E":72.9},{"k":"b-11","B":5,"E":82.2},
{"k":"b12","B":-15,"E":65.4},{"k":"b12","B":-12.5,"E":67.2},{"k":"b12","B":-10,"E":71},{"k":"b12","B":-7.5,"E":77.5},{"k":"b12","B":-5,"E":87.9},
{"k":"b-12","B":15,"E":65.4},{"k":"b-12","B":12.5,"E":67.2},{"k":"b-12","B":10,"E":71},{"k":"b-12","B":7.5,"E":77.5},{"k":"b-12","B":5,"E":87.9},
{"k":"c0","B":-15,"E":63.1},{"k":"c0","B":-12.5,"E":56.2},{"k":"c0","B":-10,"E":49.9},{"k":"c0","B":-7.5,"E":44.4},{"k":"c0","B":-5,"E":39.9},{"k":"c0","B":-2.5,"E":37},{"k":"c0","B":0,"E":36},{"k":"c0","B":2.5,"E":37},{"k":"c0","B":5,"E":39.9},{"k":"c0","B":7.5,"E":44.4},{"k":"c0","B":10,"E":49.9},{"k":"c0","B":12.5,"E":56.2},{"k":"c0","B":15,"E":63.1},
{"k":"c1","B":-15,"E":65.9},{"k":"c1","B":-12.5,"E":59.5},{"k":"c1","B":-10,"E":53.8},{"k":"c1","B":-7.5,"E":49},{"k":"c1","B":-5,"E":45.6},{"k":"c1","B":-2.5,"E":44.1},{"k":"c1","B":0,"E":45},{"k":"c1","B":2.5,"E":48.5},{"k":"c1","B":5,"E":54.2},{"k":"c1","B":7.5,"E":61.9},{"k":"c1","B":10,"E":71},{"k":"c1","B":12.5,"E":81.1},
{"k":"c-1","B":15,"E":65.9},{"k":"c-1","B":12.5,"E":59.5},{"k":"c-1","B":10,"E":53.8},{"k":"c-1","B":7.5,"E":49},{"k":"c-1","B":5,"E":45.6},{"k":"c-1","B":2.5,"E":44.1},{"k":"c-1","B":0,"E":45},{"k":"c-1","B":-2.5,"E":48.5},{"k":"c-1","B":-5,"E":54.2},{"k":"c-1","B":-7.5,"E":61.9},{"k":"c-1","B":-10,"E":71},{"k":"c-1","B":-12.5,"E":81.1},
{"k":"c-2","B":15,"E":68.8},{"k":"c-2","B":12.5,"E":62.8},{"k":"c-2","B":10,"E":57.6},{"k":"c-2","B":7.5,"E":53.6},{"k":"c-2","B":5,"E":51.2},{"k":"c-2","B":2.5,"E":51.2},{"k":"c-2","B":0,"E":54},{"k":"c-2","B":-2.5,"E":59.9},{"k":"c-2","B":-5,"E":68.5},{"k":"c-2","B":-7.5,"E":79.5},{"k":"c-2","B":-10,"E":92.2},
{"k":"c-3","B":15,"E":71.6},{"k":"c-3","B":12.5,"E":66},{"k":"c-3","B":10,"E":61.4},{"k":"c-3","B":7.5,"E":58.2},{"k":"c-3","B":5,"E":56.9},{"k":"c-3","B":2.5,"E":58.3},{"k":"c-3","B":0,"E":63},{"k":"c-3","B":-2.5,"E":71.3},{"k":"c-3","B":-5,"E":82.8},
{"k":"c-4","B":15,"E":74.4},{"k":"c-4","B":12.5,"E":69.3},{"k":"c-4","B":10,"E":65.3},{"k":"c-4","B":7.5,"E":62.8},{"k":"c-4","B":5,"E":62.6},{"k":"c-4","B":2.5,"E":65.4},{"k":"c-4","B":0,"E":72},{"k":"c-4","B":-2.5,"E":82.7},
{"k":"c-5","B":15,"E":77.2},{"k":"c-5","B":12.5,"E":72.5},{"k":"c-5","B":10,"E":69.1},{"k":"c-5","B":7.5,"E":67.4},{"k":"c-5","B":5,"E":68.2},{"k":"c-5","B":2.5,"E":72.5},{"k":"c-5","B":0,"E":81},
{"k":"d0","B":-12.5,"E":84.4},{"k":"d0","B":-10,"E":74.9},{"k":"d0","B":-7.5,"E":66.5},{"k":"d0","B":-5,"E":59.9},{"k":"d0","B":-2.5,"E":55.6},{"k":"d0","B":0,"E":54},{"k":"d0","B":2.5,"E":55.6},{"k":"d0","B":5,"E":59.9},{"k":"d0","B":7.5,"E":66.5},{"k":"d0","B":10,"E":74.9},{"k":"d0","B":12.5,"E":84.4},
{"k":"d1","B":-12.5,"E":87.6},{"k":"d1","B":-10,"E":78.7},{"k":"d1","B":-7.5,"E":71.2},{"k":"d1","B":-5,"E":65.5},{"k":"d1","B":-2.5,"E":62.7},{"k":"d1","B":0,"E":63},{"k":"d1","B":2.5,"E":67},{"k":"d1","B":5,"E":74.2},{"k":"d1","B":7.5,"E":84.1},
{"k":"d-1","B":12.5,"E":87.6},{"k":"d-1","B":10,"E":78.7},{"k":"d-1","B":7.5,"E":71.2},{"k":"d-1","B":5,"E":65.5},{"k":"d-1","B":2.5,"E":62.7},{"k":"d-1","B":0,"E":63},{"k":"d-1","B":-2.5,"E":67},{"k":"d-1","B":-5,"E":74.2},{"k":"d-1","B":-7.5,"E":84.1},
{"k":"d2","B":-10,"E":82.6},{"k":"d2","B":-7.5,"E":75.8},{"k":"d2","B":-5,"E":71.2},{"k":"d2","B":-2.5,"E":69.8},{"k":"d2","B":0,"E":72},{"k":"d2","B":2.5,"E":78.4},{"k":"d2","B":5,"E":88.6},
{"k":"d-2","B":10,"E":82.6},{"k":"d-2","B":7.5,"E":75.8},{"k":"d-2","B":5,"E":71.2},{"k":"d-2","B":2.5,"E":69.8},{"k":"d-2","B":0,"E":72},{"k":"d-2","B":-2.5,"E":78.4},{"k":"d-2","B":-5,"E":88.6},
{"k":"e0","B":-7.5,"E":88.7},{"k":"e0","B":-5,"E":79.8},{"k":"e0","B":-2.5,"E":74.1},{"k":"e0","B":0,"E":72},{"k":"e0","B":2.5,"E":74.1},{"k":"e0","B":5,"E":79.8},{"k":"e0","B":7.5,"E":88.7}
],
"dot":[
{"k":"L1","B":-15,"E":61.5},{"k":"L1","B":0,"E":0},
{"k":"L2","B":-11.8,"E":85},{"k":"L2","B":0,"E":0},
{"k":"L3","B":-7.4,"E":85},{"k":"L3","B":0,"E":0},
{"k":"R1","B":0,"E":0},{"k":"R1","B":15,"E":61.5},
{"k":"R2","B":0,"E":0},{"k":"R2","B":11.8,"E":85},
{"k":"R3","B":0,"E":0},{"k":"R3","B":7.4,"E":85},
{"k":"H","B":-15,"E":0},{"k":"H","B":15,"E":0}
],
"la":[
{"c":"b","t":"1","B":-6.1,"E":5.7},{"c":"b","t":"2","B":-5.65,"E":12.1},{"c":"b","t":"3","B":-14,"E":11.1},{"c":"b","t":"0","B":-3.35,"E":20.5},
{"c":"b","t":"-1","B":7.4,"E":7.2},{"c":"b","t":"-2","B":5.1,"E":15.6},{"c":"b","t":"-3","B":8.25,"E":12.7},{"c":"b","t":"-4","B":7.65,"E":19.6},{"c":"b","t":"-5","B":9.7,"E":15.6},
{"c":"r","t":"1","B":-7.7,"E":6.9},{"c":"r","t":"2","B":-8.4,"E":13.2},{"c":"r","t":"3","B":-7.9,"E":16.7},{"c":"r","t":"4","B":-6.8,"E":19.6},{"c":"r","t":"5","B":-9.5,"E":16.1},
{"c":"r","t":"0","B":3.55,"E":19.6},{"c":"r","t":"-1","B":5.6,"E":5.7},{"c":"r","t":"-2","B":5.6,"E":12.1},{"c":"r","t":"-3","B":14.1,"E":11.1}
],
"bk":[
{"k":"k0","B":0,"E":30},{"k":"k0","B":1,"E":27.2},{"k":"k0","B":2,"E":24.5},{"k":"k0","B":3,"E":21.9},{"k":"k0","B":4,"E":19.4},{"k":"k0","B":5,"E":17},{"k":"k0","B":6,"E":15.1},{"k":"k0","B":7,"E":13.5},{"k":"k0","B":8,"E":11.9},{"k":"k0","B":9,"E":10.6},{"k":"k0","B":10,"E":9.4},
{"k":"k1","B":1.3,"E":30},{"k":"k1","B":2.3,"E":27},{"k":"k1","B":3.3,"E":24.3},{"k":"k1","B":4.3,"E":21.8},{"k":"k1","B":5.3,"E":19.7},{"k":"k1","B":6.3,"E":17.8},{"k":"k1","B":7.3,"E":16.3},{"k":"k1","B":8.3,"E":15},{"k":"k1","B":9.3,"E":14},{"k":"k1","B":10.3,"E":13.1},
{"k":"k2","B":2.45,"E":30},{"k":"k2","B":3.45,"E":27},{"k":"k2","B":4.45,"E":24.3},{"k":"k2","B":5.45,"E":21.8},{"k":"k2","B":6.45,"E":19.7},{"k":"k2","B":7.45,"E":17.8},{"k":"k2","B":8.45,"E":16.3},{"k":"k2","B":9.45,"E":15},{"k":"k2","B":10.45,"E":14},
{"k":"k3","B":3.2,"E":30},{"k":"k3","B":4.2,"E":27},{"k":"k3","B":5.2,"E":24.3},{"k":"k3","B":6.2,"E":21.8},{"k":"k3","B":7.2,"E":19.7},{"k":"k3","B":8.2,"E":17.8},{"k":"k3","B":9.2,"E":16.3},{"k":"k3","B":10.2,"E":15},
{"k":"k4","B":3.9,"E":30},{"k":"k4","B":4.9,"E":27},{"k":"k4","B":5.9,"E":24.3},{"k":"k4","B":6.9,"E":21.8},{"k":"k4","B":7.9,"E":19.7},{"k":"k4","B":8.9,"E":17.8},{"k":"k4","B":9.9,"E":16.3},{"k":"k4","B":10.9,"E":15},
{"k":"k5","B":4.5,"E":30},{"k":"k5","B":5.5,"E":27},{"k":"k5","B":6.5,"E":24.3},{"k":"k5","B":7.5,"E":21.8},{"k":"k5","B":8.5,"E":19.7},{"k":"k5","B":9.5,"E":17.8},{"k":"k5","B":10.5,"E":16.3},
{"k":"k6","B":5,"E":30},{"k":"k6","B":6,"E":27},{"k":"k6","B":7,"E":24.3},{"k":"k6","B":8,"E":21.8},{"k":"k6","B":9,"E":19.7},{"k":"k6","B":10,"E":17.8},
{"k":"k7","B":5.5,"E":30},{"k":"k7","B":6.5,"E":27},{"k":"k7","B":7.5,"E":24.3},{"k":"k7","B":8.5,"E":21.8},{"k":"k7","B":9.5,"E":19.7},{"k":"k7","B":10.5,"E":17.8},
{"k":"k8","B":5.9,"E":30},{"k":"k8","B":6.9,"E":27},{"k":"k8","B":7.9,"E":24.3},{"k":"k8","B":8.9,"E":21.8},{"k":"k8","B":9.9,"E":19.7},{"k":"k8","B":10.9,"E":17.8},
{"k":"k9","B":6.3,"E":30},{"k":"k9","B":7.3,"E":27},{"k":"k9","B":8.3,"E":24.3},{"k":"k9","B":9.3,"E":21.8},{"k":"k9","B":10.3,"E":19.7},
{"k":"k10","B":6.7,"E":30},{"k":"k10","B":7.7,"E":27},{"k":"k10","B":8.7,"E":24.3},{"k":"k10","B":9.7,"E":21.8},{"k":"k10","B":10.7,"E":19.7},
{"k":"k11","B":7,"E":30},{"k":"k11","B":8,"E":27},{"k":"k11","B":9,"E":24.3},{"k":"k11","B":10,"E":21.8},
{"k":"k12","B":7.3,"E":30},{"k":"k12","B":8.3,"E":27},{"k":"k12","B":9.3,"E":24.3},{"k":"k12","B":10.3,"E":21.8},
{"k":"k13","B":7.6,"E":30},{"k":"k13","B":8.6,"E":27},{"k":"k13","B":9.6,"E":24.3},{"k":"k13","B":10.6,"E":21.8},
{"k":"k14","B":7.9,"E":30},{"k":"k14","B":8.9,"E":27},{"k":"k14","B":9.9,"E":24.3},{"k":"k14","B":10.9,"E":21.8},
{"k":"k15","B":8.2,"E":30},{"k":"k15","B":9.2,"E":27},{"k":"k15","B":10.2,"E":24.3},
{"k":"k16","B":8.5,"E":30},{"k":"k16","B":9.5,"E":27},{"k":"k16","B":10.5,"E":24.3},
{"k":"k17","B":8.8,"E":30},{"k":"k17","B":9.8,"E":27},{"k":"k17","B":10.8,"E":24.3},
{"k":"k18","B":9.1,"E":30},{"k":"k18","B":10.1,"E":27},
{"k":"k19","B":9.4,"E":30},{"k":"k19","B":10.4,"E":27},
{"k":"k20","B":9.7,"E":30},{"k":"k20","B":10.7,"E":27},
{"k":"k00","B":0,"E":21.7},{"k":"k00","B":1,"E":21.85},{"k":"k00","B":2,"E":22.35},{"k":"k00","B":3,"E":23.1},{"k":"k00","B":4,"E":24.2},{"k":"k00","B":5,"E":25.7},{"k":"k00","B":6,"E":27.9},{"k":"k00","B":6.8,"E":30.1}
],
"rd":[
{"k":"r22","B":0,"E":21.7},{"k":"r22","B":1,"E":24.9},{"k":"r22","B":2,"E":28.1},{"k":"r22","B":2.6,"E":30},{"k":"r22","B":2.8,"E":30.6},
{"k":"r0","B":2.6,"E":30},{"k":"r0","B":3.6,"E":26.4},{"k":"r0","B":4.6,"E":23.2},{"k":"r0","B":5.6,"E":20.3},{"k":"r0","B":6.6,"E":17.8},{"k":"r0","B":7.6,"E":15.6},{"k":"r0","B":8.6,"E":13.8},{"k":"r0","B":9.6,"E":12.6},{"k":"r0","B":10.6,"E":11.6},
{"k":"r1","B":3.4,"E":30},{"k":"r1","B":4.4,"E":26.4},{"k":"r1","B":5.4,"E":23.2},{"k":"r1","B":6.4,"E":20.3},{"k":"r1","B":7.4,"E":17.8},{"k":"r1","B":8.4,"E":15.6},{"k":"r1","B":9.4,"E":13.8},{"k":"r1","B":10.4,"E":12.6},
{"k":"r2","B":4.9,"E":30},{"k":"r2","B":5.9,"E":26.4},{"k":"r2","B":6.9,"E":23.2},{"k":"r2","B":7.9,"E":20.3},{"k":"r2","B":8.9,"E":17.8},{"k":"r2","B":9.9,"E":15.6},{"k":"r2","B":10.9,"E":13.8},
{"k":"r3","B":6.2,"E":30},{"k":"r3","B":7.2,"E":26.4},{"k":"r3","B":8.2,"E":23.2},{"k":"r3","B":9.2,"E":20.3},{"k":"r3","B":10.2,"E":17.8},
{"k":"r4","B":7.2,"E":30},{"k":"r4","B":8.2,"E":26.4},{"k":"r4","B":9.2,"E":23.2},{"k":"r4","B":10.2,"E":20.3},
{"k":"r5","B":8,"E":30},{"k":"r5","B":9,"E":26.4},{"k":"r5","B":10,"E":23.2},
{"k":"r6","B":9,"E":30},{"k":"r6","B":10,"E":26.4}
],
"bd":[
{"k":"q22","B":0,"E":21.5},{"k":"q22","B":1,"E":19.3},{"k":"q22","B":2,"E":17.1},{"k":"q22","B":3,"E":15.2},{"k":"q22","B":4,"E":13.6},{"k":"q22","B":5,"E":12},{"k":"q22","B":6,"E":10.8},{"k":"q22","B":7,"E":9.9},{"k":"q22","B":8,"E":9.2},{"k":"q22","B":9,"E":8.7},{"k":"q22","B":10,"E":8.3},
{"k":"q32","B":0.6,"E":30},{"k":"q32","B":1,"E":28.8},{"k":"q32","B":2,"E":25.9},{"k":"q32","B":3,"E":23.2},{"k":"q32","B":4,"E":20.9},{"k":"q32","B":5,"E":18.8},{"k":"q32","B":6,"E":17},{"k":"q32","B":7,"E":15.5},{"k":"q32","B":8,"E":14.3},{"k":"q32","B":9,"E":13.4},{"k":"q32","B":10,"E":12.7},
{"k":"q1","B":2.95,"E":30},{"k":"q1","B":3.95,"E":27},{"k":"q1","B":4.95,"E":24.3},{"k":"q1","B":5.95,"E":21.8},{"k":"q1","B":6.95,"E":19.7},{"k":"q1","B":7.95,"E":17.8},{"k":"q1","B":8.95,"E":16.3},{"k":"q1","B":9.95,"E":15},{"k":"q1","B":10.95,"E":14},
{"k":"q2","B":3.08,"E":30},{"k":"q2","B":4.08,"E":27},{"k":"q2","B":5.08,"E":24.3},{"k":"q2","B":6.08,"E":21.8},{"k":"q2","B":7.08,"E":19.7},{"k":"q2","B":8.08,"E":17.8},{"k":"q2","B":9.08,"E":16.3},{"k":"q2","B":10.08,"E":15},
{"k":"q3","B":5.65,"E":30},{"k":"q3","B":6.65,"E":27},{"k":"q3","B":7.65,"E":24.3},{"k":"q3","B":8.65,"E":21.8},{"k":"q3","B":9.65,"E":19.7},{"k":"q3","B":10.65,"E":17.8},
{"k":"q4","B":5.78,"E":30},{"k":"q4","B":6.78,"E":27},{"k":"q4","B":7.78,"E":24.3},{"k":"q4","B":8.78,"E":21.8},{"k":"q4","B":9.78,"E":19.7},{"k":"q4","B":10.78,"E":17.8},
{"k":"q5","B":8,"E":30},{"k":"q5","B":9,"E":27},{"k":"q5","B":10,"E":24.3},
{"k":"q6","B":8.12,"E":30},{"k":"q6","B":9.12,"E":27},{"k":"q6","B":10.12,"E":24.3}
],
"lb":[
{"c":"k","t":"(0,0)","B":1.7,"E":21.2},
{"c":"r","t":"(2,2)","B":0.6,"E":24.4},
{"c":"k","t":"(-3,0)","B":4.0,"E":22.6},
{"c":"k","t":"(-2,0)","B":4.15,"E":18.7},
{"c":"b","t":"(-3,-2)","B":6.4,"E":16.6},
{"c":"b","t":"(-2,-2)","B":2.65,"E":15.4},
{"c":"r","t":"(-2,2)","B":8.2,"E":14.2}
]
},
"hconcat":[
{
 "width":218,"height":236,
 "title":{"text":"(a) single-electron","dx":6,"offset":-4,"frame":"group","anchor":"start"},
 "resolve":{"axis":{"x":"independent","y":"independent"}},
 "layer":[
  {"data":{"name":"blue"},"mark":{"type":"line","color":"#0000ff","strokeWidth":1,"clip":true,"interpolate":"monotone"},
   "encoding":{
    "x":{"field":"B","type":"quantitative","scale":{"domain":[-15,15],"nice":false,"zero":false},"axis":{"orient":"bottom","values":[-15,-10,-5,0,5,10,15],"title":"B (Tesla)"}},
    "y":{"field":"E","type":"quantitative","scale":{"domain":[-2,80],"nice":false,"zero":false},"axis":{"orient":"left","values":[0,10,20,30,40,50,60,70,80],"title":"Energy (meV)"}},
    "detail":{"field":"k"}}},
  {"data":{"name":"red"},"mark":{"type":"line","color":"#ff0000","strokeWidth":0.9,"strokeDash":[4,2.5],"clip":true,"interpolate":"monotone"},
   "encoding":{
    "x":{"field":"B","type":"quantitative","axis":{"orient":"top","values":[-15,-10,-5,0,5,10,15],"labels":false,"title":null}},
    "y":{"field":"E","type":"quantitative","axis":{"orient":"right","values":[0,10,20,30,40,50,60,70,80],"labels":false,"title":null}},
    "detail":{"field":"k"}}},
  {"data":{"name":"dot"},"mark":{"type":"line","color":"#000000","strokeWidth":2,"strokeDash":[1.6,1.6],"clip":true},
   "encoding":{
    "x":{"field":"B","type":"quantitative","axis":null},
    "y":{"field":"E","type":"quantitative","axis":null},
    "detail":{"field":"k"}}},
  {"data":{"name":"la"},"mark":{"type":"text","fontSize":9,"font":"Liberation Sans","color":"white","stroke":"white","strokeWidth":3,"align":"center","baseline":"middle"},
   "encoding":{
    "x":{"field":"B","type":"quantitative","axis":null},
    "y":{"field":"E","type":"quantitative","axis":null},
    "text":{"field":"t"}}},
  {"data":{"name":"la"},"mark":{"type":"text","fontSize":9,"font":"Liberation Sans","align":"center","baseline":"middle"},
   "encoding":{
    "x":{"field":"B","type":"quantitative","axis":null},
    "y":{"field":"E","type":"quantitative","axis":null},
    "text":{"field":"t"},
    "color":{"field":"c","type":"nominal","scale":{"domain":["b","r","k"],"range":["#0000ff","#ff0000","#000000"]},"legend":null}}}
 ]
},
{
 "width":211,"height":236,
 "title":{"text":"(b) two non-interacting electrons","dx":-2,"offset":-4,"frame":"group","anchor":"start"},
 "resolve":{"axis":{"x":"independent","y":"independent"}},
 "layer":[
  {"data":{"name":"bk"},"mark":{"type":"line","color":"#000000","strokeWidth":1.1,"clip":true,"interpolate":"monotone"},
   "encoding":{
    "x":{"field":"B","type":"quantitative","scale":{"domain":[0,10],"nice":false,"zero":false},"axis":{"orient":"bottom","values":[0,2,4,6,8,10],"title":"B (Tesla)"}},
    "y":{"field":"E","type":"quantitative","scale":{"domain":[6,30],"nice":false,"zero":false},"axis":{"orient":"left","values":[10,15,20,25,30],"title":null}},
    "detail":{"field":"k"}}},
  {"data":{"name":"rd"},"mark":{"type":"line","color":"#ff3030","strokeWidth":1,"clip":true,"interpolate":"monotone"},
   "encoding":{
    "x":{"field":"B","type":"quantitative","axis":{"orient":"top","values":[0,2,4,6,8,10],"labels":false,"title":null}},
    "y":{"field":"E","type":"quantitative","axis":{"orient":"right","values":[10,15,20,25,30],"labels":false,"title":null}},
    "detail":{"field":"k"}}},
  {"data":{"name":"bd"},"mark":{"type":"line","color":"#2a2aff","strokeWidth":1.1,"strokeDash":[4,2.5],"clip":true,"interpolate":"monotone"},
   "encoding":{
    "x":{"field":"B","type":"quantitative","axis":null},
    "y":{"field":"E","type":"quantitative","axis":null},
    "detail":{"field":"k"}}},
  {"data":{"name":"lb"},"transform":[{"filter":{"field":"t","oneOf":["(0,0)"]}}],"mark":{"type":"text","fontSize":10,"font":"Liberation Sans","color":"white","stroke":"white","strokeWidth":3,"align":"center","baseline":"middle","angle":0},
   "encoding":{"x":{"field":"B","type":"quantitative","axis":null},"y":{"field":"E","type":"quantitative","axis":null},"text":{"field":"t"}}},
  {"data":{"name":"lb"},"transform":[{"filter":{"field":"t","oneOf":["(2,2)"]}}],"mark":{"type":"text","fontSize":10,"font":"Liberation Sans","color":"white","stroke":"white","strokeWidth":3,"align":"center","baseline":"middle","angle":-58},
   "encoding":{"x":{"field":"B","type":"quantitative","axis":null},"y":{"field":"E","type":"quantitative","axis":null},"text":{"field":"t"}}},
  {"data":{"name":"lb"},"transform":[{"filter":{"field":"t","oneOf":["(-3,0)","(-2,0)","(-2,2)"]}}],"mark":{"type":"text","fontSize":10,"font":"Liberation Sans","color":"white","stroke":"white","strokeWidth":3,"align":"center","baseline":"middle","angle":55},
   "encoding":{"x":{"field":"B","type":"quantitative","axis":null},"y":{"field":"E","type":"quantitative","axis":null},"text":{"field":"t"}}},
  {"data":{"name":"lb"},"transform":[{"filter":{"field":"t","oneOf":["(-3,-2)","(-2,-2)"]}}],"mark":{"type":"text","fontSize":10,"font":"Liberation Sans","color":"white","stroke":"white","strokeWidth":3,"align":"center","baseline":"middle","angle":42},
   "encoding":{"x":{"field":"B","type":"quantitative","axis":null},"y":{"field":"E","type":"quantitative","axis":null},"text":{"field":"t"}}},
  {"data":{"name":"lb"},"transform":[{"filter":{"field":"t","oneOf":["(0,0)"]}}],"mark":{"type":"text","fontSize":10,"font":"Liberation Sans","align":"center","baseline":"middle","angle":0},
   "encoding":{"x":{"field":"B","type":"quantitative","axis":null},"y":{"field":"E","type":"quantitative","axis":null},"text":{"field":"t"},
    "color":{"field":"c","type":"nominal","scale":{"domain":["b","r","k"],"range":["#0000ff","#ff0000","#000000"]},"legend":null}}},
  {"data":{"name":"lb"},"transform":[{"filter":{"field":"t","oneOf":["(2,2)"]}}],"mark":{"type":"text","fontSize":10,"font":"Liberation Sans","align":"center","baseline":"middle","angle":-58},
   "encoding":{"x":{"field":"B","type":"quantitative","axis":null},"y":{"field":"E","type":"quantitative","axis":null},"text":{"field":"t"},
    "color":{"field":"c","type":"nominal","scale":{"domain":["b","r","k"],"range":["#0000ff","#ff0000","#000000"]},"legend":null}}},
  {"data":{"name":"lb"},"transform":[{"filter":{"field":"t","oneOf":["(-3,0)","(-2,0)","(-2,2)"]}}],"mark":{"type":"text","fontSize":10,"font":"Liberation Sans","align":"center","baseline":"middle","angle":55},
   "encoding":{"x":{"field":"B","type":"quantitative","axis":null},"y":{"field":"E","type":"quantitative","axis":null},"text":{"field":"t"},
    "color":{"field":"c","type":"nominal","scale":{"domain":["b","r","k"],"range":["#0000ff","#ff0000","#000000"]},"legend":null}}},
  {"data":{"name":"lb"},"transform":[{"filter":{"field":"t","oneOf":["(-3,-2)","(-2,-2)"]}}],"mark":{"type":"text","fontSize":10,"font":"Liberation Sans","align":"center","baseline":"middle","angle":42},
   "encoding":{"x":{"field":"B","type":"quantitative","axis":null},"y":{"field":"E","type":"quantitative","axis":null},"text":{"field":"t"},
    "color":{"field":"c","type":"nominal","scale":{"domain":["b","r","k"],"range":["#0000ff","#ff0000","#000000"]},"legend":null}}}
 ]
}
]
}
